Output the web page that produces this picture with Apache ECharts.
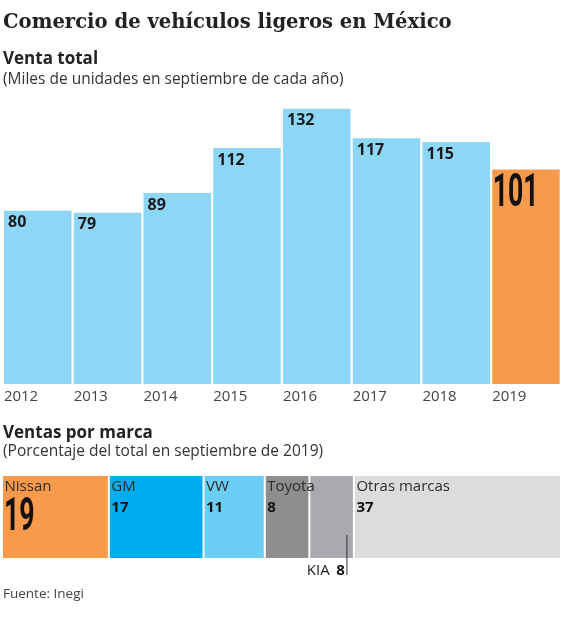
<!DOCTYPE html>
<html><head><meta charset="utf-8">
<script src="https://cdn.jsdelivr.net/npm/echarts@6/dist/echarts.min.js"></script>
<style>html,body{margin:0;padding:0;background:#fff}#c{width:567px;height:620px}</style>
</head><body><div id="c"></div>
<script>
// ---- data ----
const years = ['2012', '2013', '2014', '2015', '2016', '2017', '2018', '2019'];
const sales = [80, 79, 89, 112, 132, 117, 115, 101];
const highlightYear = '2019';
const brands = ['Nissan', 'GM', 'VW', 'Toyota', 'KIA', 'Otras marcas'];
const shares = [19, 17, 11, 8, 8, 37];
const bigBrand = 'Nissan';
const belowLabelBrand = 'KIA';

// ---- styles ----
const SANS = "'Open Sans', 'Noto Sans', sans-serif";
const BIG = "Roboto, 'Noto Sans', sans-serif";
const colBlue = '#8DD6F6', colOrange = '#F89A4C';
const brandColors = ['#F89A4C', '#00AEEF', '#6DCEF5', '#8E8E91', '#A9AAAF', '#DCDCDC'];

let acc = 0;
const segData = shares.map((s, i) => { const d = [acc, acc + s, i]; acc += s; return d; });

const chart = echarts.init(document.getElementById('c'), null, {renderer: 'canvas'});
chart.setOption({
  animation: false,
  backgroundColor: '#fff',
  title: [
    {text: 'Comercio de vehículos ligeros en México', left: 3, top: 12.5, padding: 0,
     textStyle: {fontFamily: "'DejaVu Serif', serif", fontWeight: 'bold', fontSize: 19.6, color: '#222'}},
    {text: 'Venta total', left: 3, top: 51, padding: 0,
     textStyle: {fontFamily: SANS, fontWeight: 'bold', fontSize: 17, color: '#222'}},
    {text: '(Miles de unidades en septiembre de cada año)', left: 3, top: 71.5, padding: 0,
     textStyle: {fontFamily: SANS, fontWeight: 'normal', fontSize: 15.5, color: '#333'}},
    {text: 'Ventas por marca', left: 3, top: 424.5, padding: 0,
     textStyle: {fontFamily: SANS, fontWeight: 'bold', fontSize: 17, color: '#222'}},
    {text: '(Porcentaje del total en septiembre de 2019)', left: 3, top: 444, padding: 0,
     textStyle: {fontFamily: SANS, fontWeight: 'normal', fontSize: 15.5, color: '#333'}},
    {text: 'Fuente: Inegi', left: 3, top: 587, padding: 0,
     textStyle: {fontFamily: SANS, fontWeight: 'normal', fontSize: 13.5, color: '#444'}}
  ],
  grid: [
    {left: 3, width: 558, top: 93.1, height: 290.9},
    {left: 3, width: 557, top: 476, height: 82}
  ],
  xAxis: [
    {type: 'category', gridIndex: 0, data: years,
     axisLine: {show: false}, axisTick: {show: false}, splitLine: {show: false},
     axisLabel: {margin: 4, formatter: '{y|{value}}',
       rich: {y: {width: 68, align: 'left', fontSize: 15, lineHeight: 18, fontFamily: SANS, color: '#444'}}}},
    {type: 'value', gridIndex: 1, min: 0, max: 100, show: false}
  ],
  yAxis: [
    {type: 'value', gridIndex: 0, min: -8.4, max: 140, show: false},
    {type: 'category', gridIndex: 1, data: ['2019'], show: false}
  ],
  series: [
    {
      type: 'custom', xAxisIndex: 0, yAxisIndex: 0,
      data: sales.map((v, i) => [i, v]),
      encode: {x: 0, y: 1},
      renderItem: function (params, api) {
        const i = api.value(0), v = api.value(1);
        const p = api.coord([i, v]);
        const bw = api.size([1, 0])[0];
        const cs = params.coordSys;
        const bottom = cs.y + cs.height;
        const left = p[0] - bw / 2 + 1;
        const w = bw - 2.3;
        const big = years[i] === highlightYear;
        const label = big
          ? {type: 'text', x: left + 0.5, y: p[1] + 25, scaleX: 0.58, z2: 10,
             style: {text: String(v), font: 'bold 46px ' + BIG, fill: '#111', align: 'left', verticalAlign: 'middle'}}
          : {type: 'text', x: left + 4, y: p[1] + 12, z2: 10,
             style: {text: String(v), font: 'bold 16px ' + SANS, fill: '#1a1a1a', align: 'left', verticalAlign: 'middle'}};
        return {type: 'group', children: [
          {type: 'rect', shape: {x: left, y: p[1], width: w, height: bottom - p[1]},
           style: {fill: big ? colOrange : colBlue}},
          label
        ]};
      }
    },
    {
      type: 'custom', xAxisIndex: 1, yAxisIndex: 1,
      data: segData,
      encode: {x: [0, 1]},
      renderItem: function (params, api) {
        const s = api.value(0), e = api.value(1), i = api.value(2);
        const cs = params.coordSys;
        const x0 = api.coord([s, 0])[0], x1 = api.coord([e, 0])[0];
        const left = i === 0 ? x0 : x0 + 1;
        const right = i === shares.length - 1 ? x1 : x1 - 1;
        const top = cs.y, h = cs.height;
        const children = [
          {type: 'rect', shape: {x: left, y: top, width: right - left, height: h},
           style: {fill: brandColors[i]}}
        ];
        const name = brands[i], val = shares[i];
        if (name === belowLabelBrand) {
          children.push({type: 'line', z2: 10,
            shape: {x1: x1 - 7, y1: top + 59, x2: x1 - 7, y2: top + h + 17},
            style: {stroke: '#333', lineWidth: 1}});
          children.push({type: 'text', x: x1 - 9, y: top + h + 12.5, z2: 10,
            style: {text: '{n|' + name + '}  {b|' + val + '}', align: 'right', verticalAlign: 'middle',
              rich: {n: {font: '15px ' + SANS, fill: '#222'}, b: {font: 'bold 15px ' + SANS, fill: '#111'}}}});
        } else {
          children.push({type: 'text', x: left + 1.5, y: top + 11, z2: 10,
            style: {text: name, font: '15px ' + SANS, fill: '#2b2b2b', align: 'left', verticalAlign: 'middle'}});
          if (name === bigBrand) {
            children.push({type: 'text', x: left + 1, y: top + 42, scaleX: 0.58, z2: 10,
              style: {text: String(val), font: 'bold 46px ' + BIG, fill: '#111', align: 'left', verticalAlign: 'middle'}});
          } else {
            children.push({type: 'text', x: left + 1.5, y: top + 32, z2: 10,
              style: {text: String(val), font: 'bold 15px ' + SANS, fill: '#111', align: 'left', verticalAlign: 'middle'}});
          }
        }
        return {type: 'group', children: children};
      }
    }
  ]
});
</script>
</body></html>
